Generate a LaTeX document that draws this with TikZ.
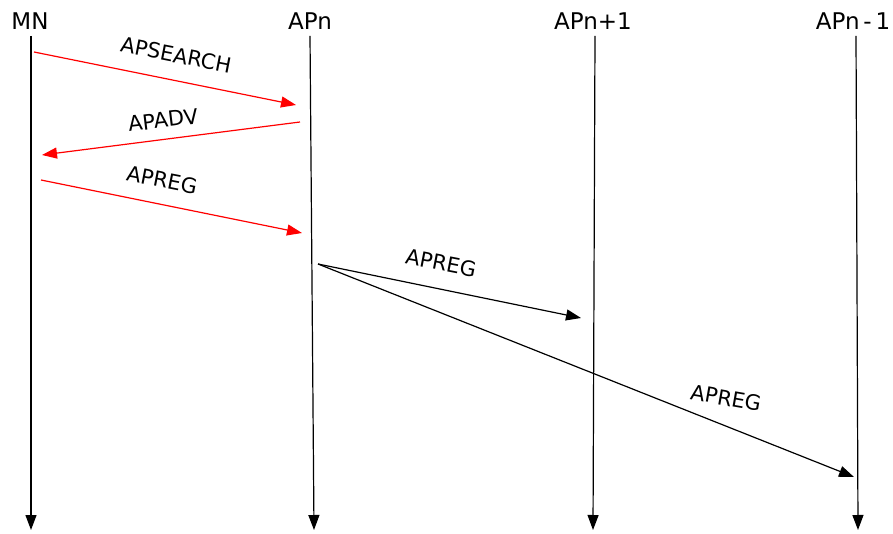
\documentclass[tikz,border=0pt]{standalone}
\usepackage{fontspec}
\setmainfont{DejaVu Sans}
\usetikzlibrary{arrows.meta}

\begin{document}
\begin{tikzpicture}[x=1pt,y=-1pt,
    lifeline/.style={line width=1.2pt, -{Triangle[length=15pt,width=11pt]}},
    msg/.style={line width=1.2pt, -{Triangle[length=15pt,width=11pt]}},
    redmsg/.style={msg, red},
    head/.style={font=\fontsize{23}{27}\selectfont, anchor=base, inner sep=0pt},
    msglabel/.style={font=\fontsize{21}{25}\selectfont, inner sep=0pt}]
    \useasboundingbox (0,0) rectangle (893,534);
    % heads of the four stations
    \node[head] (mn) at (30,30) {MN};
    \node[head] (apn) at (310,30) {APn};
    \node[head] (apnext) at (593,30) {APn+1};
    \node[head] (apprev) at (853,30) {APn\,-\,1};
    % lifelines
    \coordinate (mntop) at (31,36);
    \coordinate (mnend) at (31,530);
    \coordinate (apntop) at (310,36);
    \coordinate (apnend) at (314,530);
    \coordinate (apnexttop) at (595,36);
    \coordinate (apnextend) at (593,530);
    \coordinate (apprevtop) at (856,36);
    \coordinate (apprevend) at (858,530);
    \draw[lifeline] (mntop) -- (mnend);
    \draw[lifeline] (apntop) -- (apnend);
    \draw[lifeline] (apnexttop) -- (apnextend);
    \draw[lifeline] (apprevtop) -- (apprevend);
    % APSEARCH
    \coordinate (s1) at (34,52);
    \coordinate (e1) at (296,105);
    \draw[redmsg] (s1) -- (e1);
    \node[msglabel, rotate=-11] (search) at (176,55) {APSEARCH};
    % APADV
    \coordinate (s2) at (300,122);
    \coordinate (e2) at (42,155);
    \draw[redmsg] (s2) -- (e2);
    \node[msglabel, rotate=7] (adv) at (163,120) {APADV};
    % APREG to APn
    \coordinate (s3) at (41,180);
    \coordinate (e3) at (302,233);
    \draw[redmsg] (s3) -- (e3);
    \node[msglabel, rotate=-11] (reg) at (162,180) {APREG};
    % APREG forwarded
    \coordinate (s4) at (318,264);
    \coordinate (e4) at (581,318);
    \coordinate (e5) at (854,477);
    \draw[msg] (s4) -- (e4);
    \node[msglabel, rotate=-11] (regnext) at (441,263) {APREG};
    \draw[msg] (s4) -- (e5);
    \node[msglabel, rotate=-10] (regprev) at (726,398) {APREG};
\end{tikzpicture}
\end{document}
